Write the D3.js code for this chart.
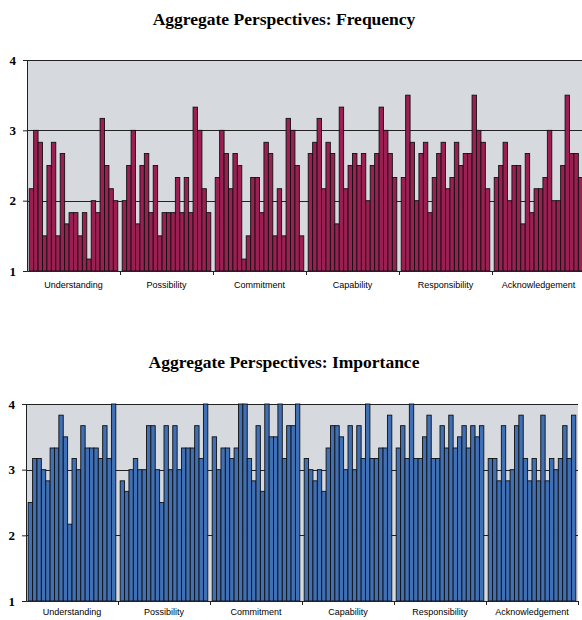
<!DOCTYPE html>
<html>
<head>
<meta charset="utf-8">
<script src="https://cdn.jsdelivr.net/npm/d3@7"></script>
<style>
  body { margin: 0; background: #fff; }
  .title { font-family: "Liberation Serif", "Times New Roman", serif; font-weight: bold; font-size: 17.5px; }
  .yaxis text { font-family: "Liberation Serif", "Times New Roman", serif; font-weight: bold; font-size: 13px; fill: #000; }
  .glabel { font-family: "Liberation Sans", Arial, sans-serif; font-size: 9px; fill: #000; }
</style>
</head>
<body>
<div id="chart"></div>
<script>
const groups = ["Understanding", "Possibility", "Commitment", "Capability", "Responsibility", "Acknowledgement"];
const yTicks = [1, 2, 3, 4];

const freqUnderstanding   = [2.17, 3.0, 2.83, 1.5, 2.5, 2.83, 1.5, 2.67, 1.67, 1.83, 1.83, 1.5, 1.83, 1.17, 2.0, 1.83, 3.17, 2.5, 2.17, 2.0];
const freqPossibility     = [2.0, 2.5, 3.0, 1.67, 2.5, 2.67, 1.83, 2.5, 1.5, 1.83, 1.83, 1.83, 2.33, 1.83, 2.33, 1.83, 3.33, 3.0, 2.17, 1.83];
const freqCommitment      = [2.33, 3.0, 2.67, 2.17, 2.67, 2.5, 1.17, 1.5, 2.33, 2.33, 1.83, 2.83, 2.67, 1.5, 2.17, 1.5, 3.17, 3.0, 2.5, 1.5];
const freqCapability      = [2.67, 2.83, 3.17, 2.17, 2.83, 2.67, 1.67, 3.33, 2.17, 2.5, 2.67, 2.5, 2.67, 2.0, 2.5, 2.67, 3.33, 3.0, 2.67, 2.33];
const freqResponsibility  = [2.33, 3.5, 2.83, 2.0, 2.67, 2.83, 1.83, 2.33, 2.67, 2.83, 2.17, 2.33, 2.83, 2.5, 2.67, 2.67, 3.5, 3.0, 2.83, 2.17];
const freqAcknowledgement = [2.33, 2.5, 2.83, 2.0, 2.5, 2.5, 1.67, 2.67, 1.83, 2.17, 2.17, 2.33, 3.0, 2.0, 2.0, 2.5, 3.5, 2.67, 2.67, 2.33];

const impUnderstanding    = [2.5, 3.17, 3.17, 3.0, 2.83, 3.33, 3.33, 3.83, 3.5, 2.17, 3.17, 3.0, 3.67, 3.33, 3.33, 3.33, 3.17, 3.67, 3.17, 4.0];
const impPossibility      = [2.83, 2.67, 3.0, 3.17, 3.0, 3.0, 3.67, 3.67, 3.0, 2.5, 3.67, 3.0, 3.67, 3.0, 3.33, 3.33, 3.33, 3.67, 3.17, 4.0];
const impCommitment       = [3.5, 3.0, 3.33, 3.33, 3.17, 3.33, 4.0, 4.0, 3.17, 2.83, 3.67, 2.67, 4.0, 3.5, 3.5, 4.0, 3.17, 3.67, 3.67, 4.0];
const impCapability       = [3.17, 3.0, 2.83, 3.0, 2.67, 3.33, 3.67, 3.67, 3.5, 3.0, 3.67, 3.0, 3.67, 3.17, 4.0, 3.17, 3.17, 3.33, 3.33, 3.83];
const impResponsibility   = [3.33, 3.67, 3.17, 4.0, 3.17, 3.17, 3.5, 3.83, 3.17, 3.17, 3.67, 3.33, 3.83, 3.33, 3.5, 3.67, 3.33, 3.67, 3.5, 3.67];
const impAcknowledgement  = [3.17, 3.17, 2.83, 3.67, 2.83, 3.0, 3.67, 3.83, 3.17, 2.83, 3.17, 2.83, 3.83, 2.83, 3.17, 3.0, 3.17, 3.67, 3.17, 3.83];

const frequency = [freqUnderstanding, freqPossibility, freqCommitment, freqCapability, freqResponsibility, freqAcknowledgement];
const importance = [impUnderstanding, impPossibility, impCommitment, impCapability, impResponsibility, impAcknowledgement];

(() => {
    const width = 582, height = 620;

    const svg = d3.select("#chart")
        .append("svg")
        .attr("width", width)
        .attr("height", height);

    // one panel = title + grey plot + grouped bars
    function panel(cfg) {
        const table = [];
        cfg.values.forEach((arr, g) => arr.forEach((v, i) => table.push({ group: groups[g], i, v })));

        const x0 = d3.scaleBand()
            .domain(groups)
            .range([cfg.left, cfg.right]);

        const x1 = d3.scaleBand()
            .domain(d3.range(20))
            .range([0, x0.bandwidth()])
            .paddingOuter(0.5);

        const y = d3.scaleLinear()
            .domain([1, 4])
            .range([cfg.bottom, cfg.top]);

        svg.append("text")
            .attr("class", "title")
            .attr("x", 284)
            .attr("y", cfg.titleY)
            .attr("text-anchor", "middle")
            .text(cfg.title);

        svg.append("rect")
            .attr("x", cfg.left)
            .attr("y", y(4))
            .attr("width", cfg.right - cfg.left)
            .attr("height", y(1) - y(4))
            .attr("fill", "#d6dadf");

        svg.append("g")
            .selectAll("line")
            .data([2, 3, 4])
            .join("line")
            .attr("x1", cfg.left)
            .attr("x2", cfg.right)
            .attr("y1", d => Math.round(y(d)) + 0.5)
            .attr("y2", d => Math.round(y(d)) + 0.5)
            .attr("stroke", "#222")
            .attr("stroke-width", 1);

        svg.append("g")
            .selectAll("rect")
            .data(table)
            .join("rect")
            .attr("x", d => x0(d.group) + x1(d.i))
            .attr("y", d => y(d.v))
            .attr("width", x1.bandwidth())
            .attr("height", d => y(1) - y(d.v))
            .attr("fill", cfg.color)
            .attr("stroke", "#111")
            .attr("stroke-width", 0.9);

        svg.append("g")
            .attr("class", "yaxis")
            .attr("transform", `translate(${cfg.left},0)`)
            .call(d3.axisLeft(y).tickValues(yTicks).tickFormat(d3.format("d")).tickSize(4).tickPadding(7))
            .call(g => g.selectAll("line, path").attr("stroke", "#222"));

        // tick marks on group boundaries
        const xb = d3.scaleLinear().domain([0, groups.length]).range([cfg.left, cfg.right]);
        svg.append("g")
            .attr("transform", `translate(0,${y(1)})`)
            .call(d3.axisBottom(xb).tickValues(d3.range(1, groups.length + 1)).tickFormat("").tickSize(4).tickSizeOuter(0))
            .call(g => g.selectAll("line, path").attr("stroke", "#222"));

        svg.append("g")
            .selectAll("text")
            .data(groups)
            .join("text")
            .attr("class", "glabel")
            .attr("x", d => x0(d) + x0.bandwidth() / 2)
            .attr("y", cfg.labelY)
            .attr("text-anchor", "middle")
            .text(d => d);
    }

    panel({ title: "Aggregate Perspectives: Frequency", titleY: 25, values: frequency, color: "#9b1f52",
            left: 27, right: 585, top: 60, bottom: 271, labelY: 288 });

    panel({ title: "Aggregate Perspectives: Importance", titleY: 368, values: importance, color: "#3f6fb4",
            left: 26, right: 578, top: 404, bottom: 601, labelY: 615 });
})();
</script>
</body>
</html>
